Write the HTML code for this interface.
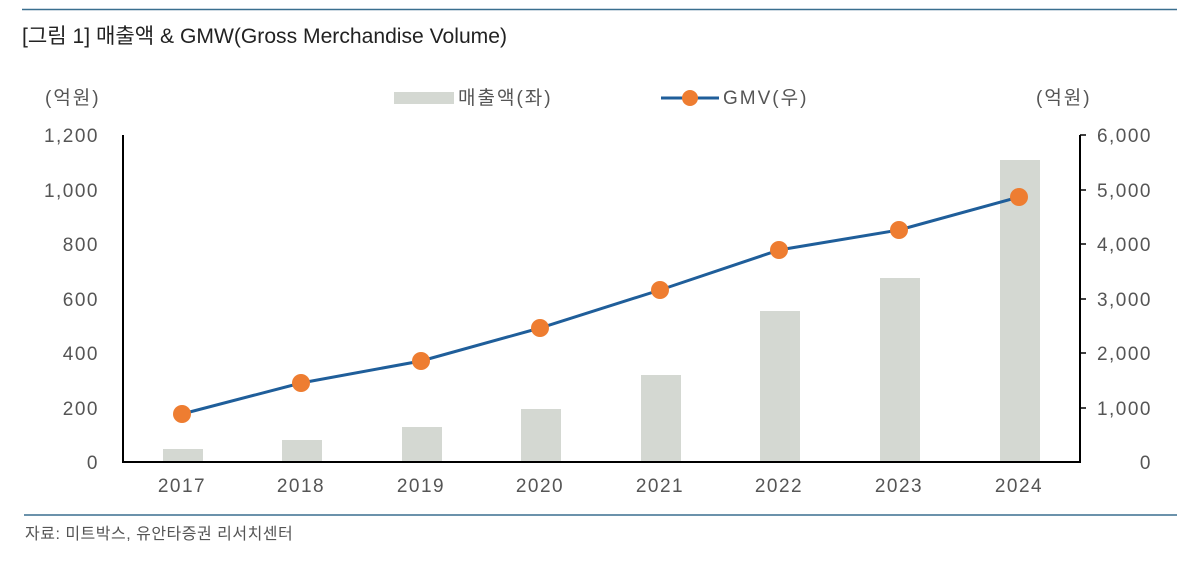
<!DOCTYPE html>
<html><head><meta charset="utf-8"><style>
body{margin:0;background:#fff;width:1199px;height:568px;overflow:hidden}
</style></head><body>
<svg width="1199" height="568" xmlns="http://www.w3.org/2000/svg" font-family="Liberation Sans, Noto Sans CJK KR, sans-serif">
<line x1="22" y1="9.5" x2="1177" y2="9.5" stroke="#3a6f8f" stroke-width="1.5"/>
<text x="22" y="43" font-size="21" fill="#222" textLength="485" lengthAdjust="spacingAndGlyphs">[그림 1] 매출액 &amp; GMW(Gross Merchandise Volume)</text>
<g font-size="19" fill="#555" letter-spacing="2">
<text x="45" y="104">(억원)</text>
<text x="1036" y="104">(억원)</text>
<rect x="394" y="92" width="60" height="12" fill="#d4d8d2"/>
<text x="458" y="104">매출액(좌)</text>
<line x1="661" y1="98" x2="719" y2="98" stroke="#1f5e9a" stroke-width="3"/>
<circle cx="690" cy="98" r="8" fill="#ee7d31"/>
<text x="723" y="104">GMV(우)</text>
</g>
<g font-size="19" fill="#555" text-anchor="end" letter-spacing="1.5">
<text x="99" y="142">1,200</text><text x="99" y="197">1,000</text><text x="99" y="251">800</text>
<text x="99" y="306">600</text><text x="99" y="360">400</text><text x="99" y="415">200</text><text x="99" y="469">0</text>
</g>
<g font-size="19" fill="#555" text-anchor="end" letter-spacing="1.5">
<text x="1152" y="142">6,000</text><text x="1152" y="197">5,000</text><text x="1152" y="251">4,000</text>
<text x="1152" y="306">3,000</text><text x="1152" y="360">2,000</text><text x="1152" y="415">1,000</text><text x="1152" y="469">0</text>
</g>
<g fill="#d4d8d2">
<rect x="163" y="449" width="40" height="13"/>
<rect x="282" y="440" width="40" height="22"/>
<rect x="402" y="427" width="40" height="35"/>
<rect x="521" y="409" width="40" height="53"/>
<rect x="641" y="375" width="40" height="87"/>
<rect x="760" y="311" width="40" height="151"/>
<rect x="880" y="278" width="40" height="184"/>
<rect x="1000" y="160" width="40" height="302"/>
</g>
<g stroke="#000" stroke-width="2" fill="none">
<line x1="123" y1="135" x2="123" y2="463"/>
<line x1="1080" y1="135" x2="1080" y2="463"/>
<line x1="122" y1="462" x2="1081" y2="462"/>
</g>
<g stroke="#000" stroke-width="1.5">
<line x1="1080" y1="135" x2="1086" y2="135"/><line x1="1080" y1="190" x2="1086" y2="190"/>
<line x1="1080" y1="244" x2="1086" y2="244"/><line x1="1080" y1="299" x2="1086" y2="299"/>
<line x1="1080" y1="353" x2="1086" y2="353"/><line x1="1080" y1="408" x2="1086" y2="408"/>
</g>
<polyline points="182,414 301,383 421,361 540,328 660,290 779,250 899,230 1019,197" fill="none" stroke="#1f5e9a" stroke-width="3"/>
<g fill="#ee7d31">
<circle cx="182" cy="414" r="9"/><circle cx="301" cy="383" r="9"/><circle cx="421" cy="361" r="9"/>
<circle cx="540" cy="328" r="9"/><circle cx="660" cy="290" r="9"/><circle cx="779" cy="250" r="9"/>
<circle cx="899" cy="230" r="9"/><circle cx="1019" cy="197" r="9"/>
</g>
<g font-size="19" fill="#555" text-anchor="middle" letter-spacing="1.5">
<text x="182" y="492">2017</text><text x="301" y="492">2018</text><text x="421" y="492">2019</text>
<text x="540" y="492">2020</text><text x="660" y="492">2021</text><text x="779" y="492">2022</text>
<text x="899" y="492">2023</text><text x="1019" y="492">2024</text>
</g>
<line x1="24" y1="515" x2="1177" y2="515" stroke="#3a6f8f" stroke-width="1.5"/>
<text x="25" y="539" font-size="16" fill="#555" letter-spacing="0.5">자료: 미트박스, 유안타증권 리서치센터</text>
</svg>
</body></html>
